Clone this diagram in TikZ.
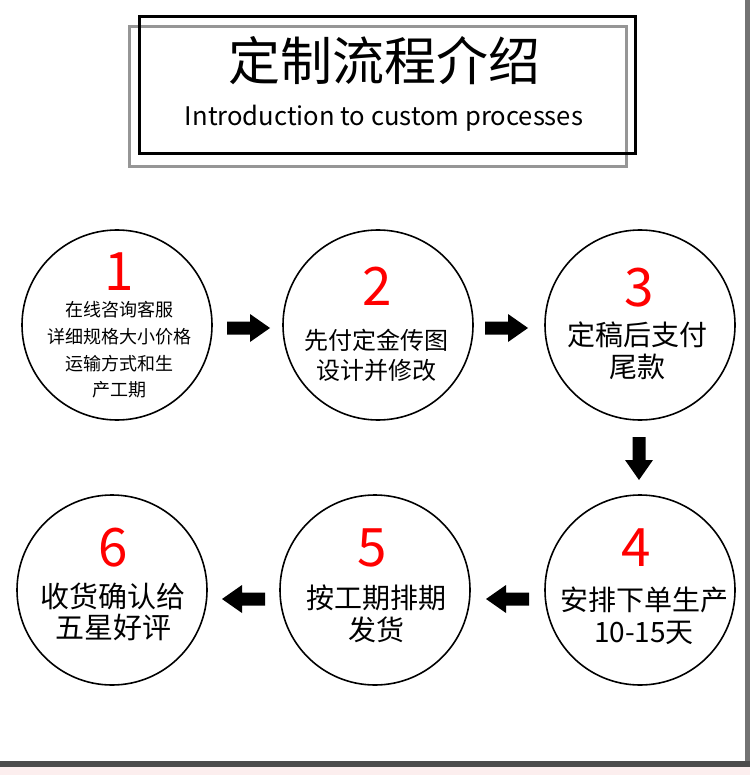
\documentclass[tikz,border=0pt]{standalone}
\usepackage{fontspec}
\setmainfont{Noto Sans CJK SC}
\definecolor{pinkbg}{RGB}{252,238,238}
\definecolor{framegray}{RGB}{150,150,150}
\definecolor{numred}{RGB}{255,0,0}
\begin{document}
\begin{tikzpicture}[x=1pt,y=-1pt,
  stepcircle/.style={circle,draw=black,line width=1.6pt,minimum size=190pt,inner sep=0pt,fill=white},
  stepnum/.style={text=numred,font=\fontsize{53}{53}\selectfont,inner sep=0pt},
  steptext/.style={align=center,inner sep=0pt,text=black},
  blockarrow/.style={fill=black}]
\useasboundingbox (0,0) rectangle (750,775);
% page frame
\fill[pinkbg] (0,0) rectangle (750,775);
\fill[black!55] (744,0) rectangle (750,767);
\fill[black!70] (0,761) rectangle (750,767);
\fill[white] (0,0) rectangle (745,761);
% title boxes
\draw[framegray,line width=3pt] (129,27) rectangle (626,167);
\draw[black,line width=3pt] (139,17) rectangle (635,154);
\node[inner sep=0pt,font=\fontsize{52}{52}\selectfont] (title) at (384,61) {定制流程介绍};
\node[inner sep=0pt,font=\fontsize{25.6}{25.6}\selectfont] (subtitle) at (384,118) {Introduction to custom processes};
% circles
\node[stepcircle] (c1) at (117,325) {};
\node[stepcircle] (c2) at (378,325) {};
\node[stepcircle] (c3) at (640,325) {};
\node[stepcircle] (c4) at (640,590) {};
\node[stepcircle] (c5) at (375,590) {};
\node[stepcircle] (c6) at (112,590) {};
% numbers
\node[stepnum] (n1) at (119,272) {1};
\node[stepnum] (n2) at (377,286) {2};
\node[stepnum] (n3) at (639,288) {3};
\node[stepnum] (n4) at (636,548) {4};
\node[stepnum] (n5) at (372,548) {5};
\node[stepnum] (n6) at (113,548) {6};
% texts
\node[steptext,font=\fontsize{18}{26.7}\selectfont] (t1) at (119,350) {在线咨询客服\\详细规格大小价格\\运输方式和生\\产工期};
\node[steptext,font=\fontsize{24}{30}\selectfont] (t2) at (376,355) {先付定金传图\\设计并修改};
\node[steptext,font=\fontsize{28}{32}\selectfont] (t3) at (637,351) {定稿后支付\\尾款};
\node[steptext,font=\fontsize{28}{32}\selectfont] (t4) at (644,616) {安排下单生产\\10-15天};
\node[steptext,font=\fontsize{28}{32}\selectfont] (t5) at (376,614) {按工期排期\\发货};
\node[steptext,font=\fontsize{29}{31}\selectfont] (t6) at (113,612) {收货确认给\\五星好评};
% block arrows
\coordinate (a12) at (227,328);
\coordinate (a23) at (485,328);
\coordinate (a34) at (639,437);
\coordinate (a45) at (529,599);
\coordinate (a56) at (265,599);
\foreach \p/\r in {a12/0,a23/0,a34/-90,a45/180,a56/180}{
  \begin{scope}[shift={(\p)},rotate=\r]
    \fill[blockarrow] (0,-6.5) -- (23,-6.5) -- (23,-14) -- (43,0) -- (23,14) -- (23,6.5) -- (0,6.5) -- cycle;
  \end{scope}
}
\end{tikzpicture}
\end{document}
